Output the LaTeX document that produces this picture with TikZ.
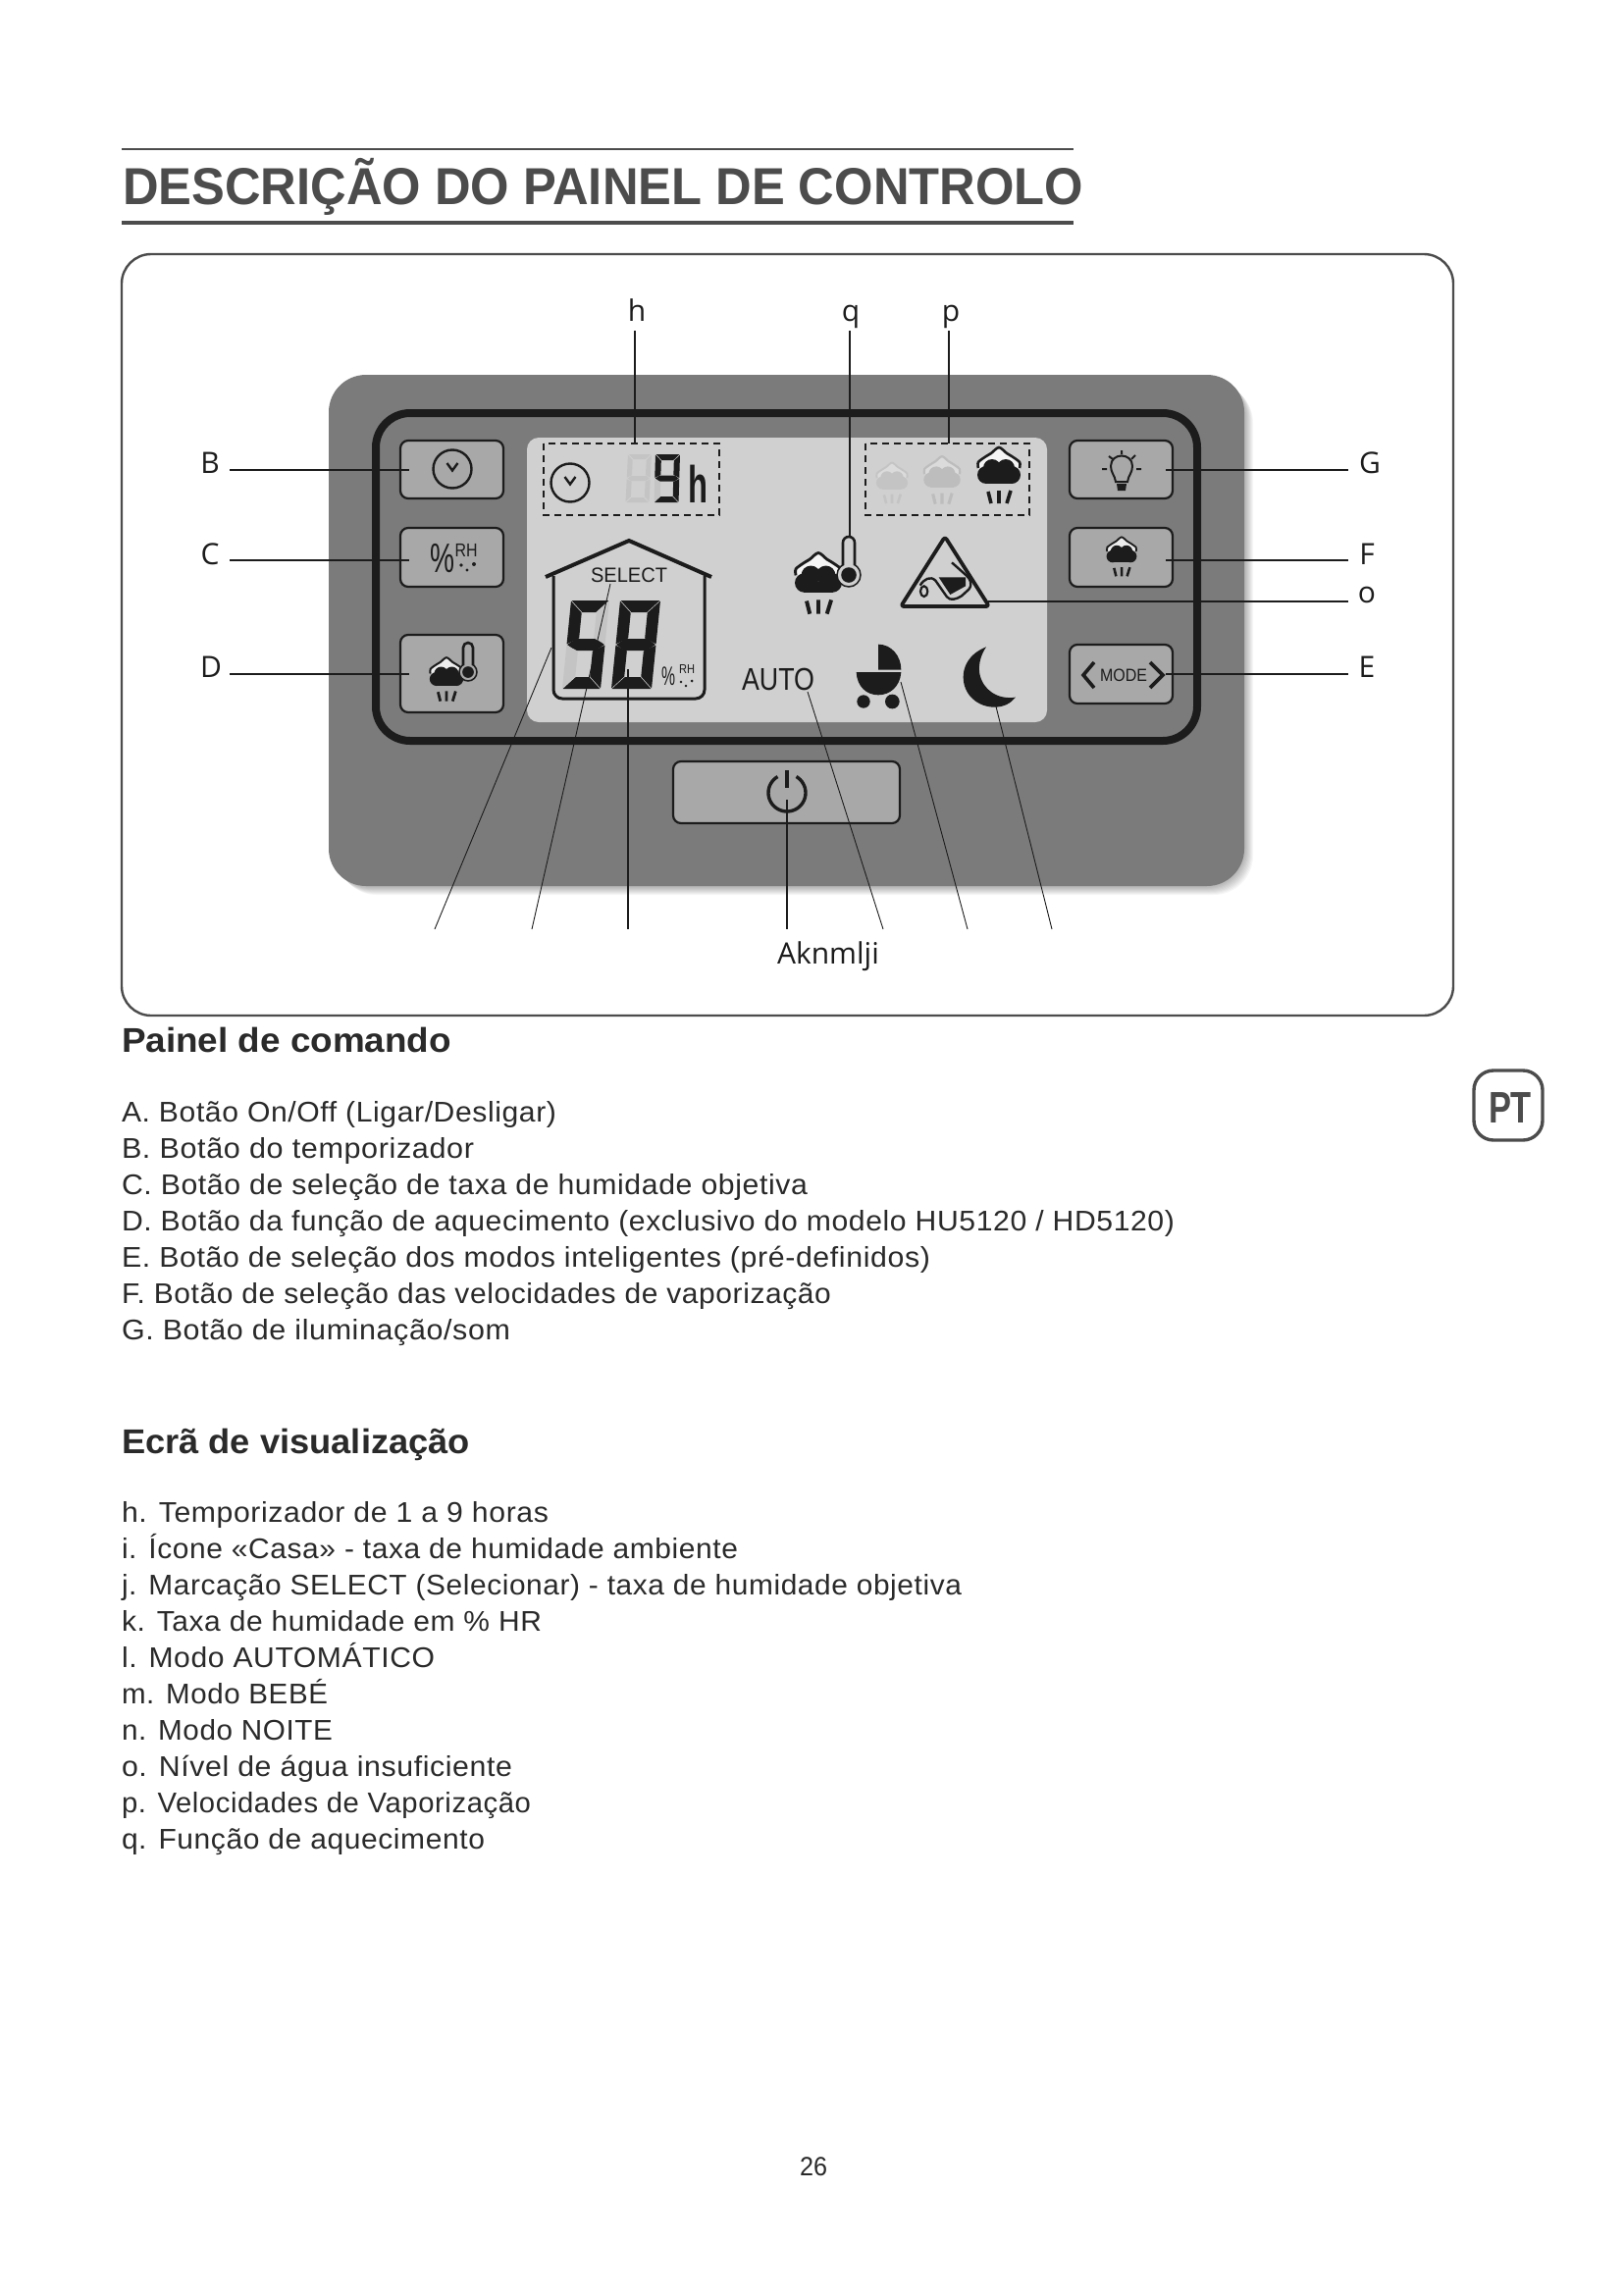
\documentclass[tikz,border=0pt]{standalone}
\usepackage{fontspec}
\usepackage{graphicx}
\setmainfont{Liberation Sans}
\newfontfamily\bodyf[LetterSpace=2]{Liberation Sans}
\newfontfamily\lblf{Open Sans}
\definecolor{panelgrey}{HTML}{7B7B7B}
\definecolor{lcdgrey}{HTML}{D0D0D0}
\definecolor{btngrey}{HTML}{A8A8A8}
\definecolor{fadegrey}{HTML}{BDBDBD}
\definecolor{faintgrey}{HTML}{C4C4C4}
\definecolor{inkdark}{HTML}{1C1C1C}
\definecolor{headgrey}{HTML}{4C4C4C}
\definecolor{textdark}{HTML}{2A2A2A}
\newcommand{\fz}[1]{\fontsize{#1pt}{#1pt}\selectfont}
\newcommand{\fitw}[2]{\resizebox{#1pt}{\height}{#2}}
\newcommand{\bline}[3]{\node[txt] (#1) at (124,#2) {\fitw{#3}{\fz{29}\bodyf\strut\csname bt#1\endcsname}};}
\def\bandop{.8}
\newcommand{\cloudicon}[4]{%
 \begin{scope}[shift={(#1,#2)},scale=#3]
  \fill[white,opacity=\bandop] plot[smooth] coordinates {(-21,-7) (-21,-13) (-13,-19) (-8,-22) (0,-28) (8,-22) (13,-19) (21,-13) (21,-7)} -- cycle;
  \draw[#4,line width=#3*2.6pt] plot[smooth] coordinates {(-21,-7) (-21,-13) (-13,-19) (-8,-22) (0,-28) (8,-22) (13,-19) (21,-13) (21,-7)};
  \fill[#4] (-13,0) circle[radius=9];
  \fill[#4] (13,0) circle[radius=9];
  \fill[#4] (-7,-7) circle[radius=9];
  \fill[#4] (7,-7) circle[radius=9];
  \fill[#4] (-14,-1) rectangle (14,9);
  \draw[#4,line width=#3*3.6pt] (-11,17) -- (-8,29) (0,16) -- (0,29) (12,16) -- (8,29);
 \end{scope}}
\newcommand{\thermo}[6]{% x, top, bulb y, half tube, bulb r, bg
 \fill[#6] (#1,#3) circle[radius=#5];
 \draw[inkdark,line width=1.5pt] (#1,#3) circle[radius=#5];
 \draw[inkdark,line width=2.6pt,fill=#6,rounded corners=#4pt] (#1-#4,#3-#5+2) -- (#1-#4,#2) -- (#1+#4,#2) -- (#1+#4,#3-#5+2);
 \fill[inkdark] (#1,#3) circle[radius=#5*.65];}
\newcommand{\clockicon}[2]{%
 \draw[inkdark,line width=2.4pt] (#1,#2) circle[radius=19.5];
 \draw[inkdark,line width=2.4pt] (#1-5.5,#2-6) -- (#1,#2+1.5) -- (#1+5.5,#2-6);}
% seven segments, in a scope where \W \H \T \G are set
\newcommand{\sA}[1]{\fill[#1] (\G,0) -- (\W-\G,0) -- (\W-\G-\T,\T) -- (\G+\T,\T) -- cycle;}
\newcommand{\sD}[1]{\fill[#1] (\G,\H) -- (\W-\G,\H) -- (\W-\G-\T,\H-\T) -- (\G+\T,\H-\T) -- cycle;}
\newcommand{\sM}[1]{\fill[#1] (\G+\T*.7,\H/2-\T/2) -- (\W-\G-\T*.7,\H/2-\T/2) -- (\W-\G,\H/2) -- (\W-\G-\T*.7,\H/2+\T/2) -- (\G+\T*.7,\H/2+\T/2) -- (\G,\H/2) -- cycle;}
\newcommand{\sF}[1]{\fill[#1] (0,\G) -- (\T,\G+\T) -- (\T,\H/2-\G-\T/2) -- (0,\H/2-\G) -- cycle;}
\newcommand{\sB}[1]{\fill[#1] (\W,\G) -- (\W-\T,\G+\T) -- (\W-\T,\H/2-\G-\T/2) -- (\W,\H/2-\G) -- cycle;}
\newcommand{\sE}[1]{\fill[#1] (0,\H/2+\G) -- (\T,\H/2+\G+\T/2) -- (\T,\H-\G-\T) -- (0,\H-\G) -- cycle;}
\newcommand{\sC}[1]{\fill[#1] (\W,\H/2+\G) -- (\W-\T,\H/2+\G+\T/2) -- (\W-\T,\H-\G-\T) -- (\W,\H-\G) -- cycle;}
\newcommand{\setseg}[4]{\def\W{#1}\def\H{#2}\def\T{#3}\def\G{#4}}
\tikzset{
 txt/.style={anchor=base west,inner sep=0pt,outer sep=0pt,text=textdark},
 lbl/.style={anchor=base,inner sep=0pt,outer sep=0pt,text=inkdark,font={\lblf\fz{30}}},
 btn/.style={draw=inkdark,fill=btngrey,line width=2.2pt,rounded corners=8pt},
 lead/.style={draw=inkdark,line width=1.5pt},
 leadthin/.style={draw=inkdark,line width=.9pt},
 dashbox/.style={draw=inkdark,line width=1.8pt,dash pattern=on 7pt off 5pt},
 lcdtxt/.style={inner sep=0pt,outer sep=0pt,text=inkdark}
}
\def\btA{A. Botão On/Off (Ligar/Desligar)}
\def\btB{B. Botão do temporizador}
\def\btC{C. Botão de seleção de taxa de humidade objetiva}
\def\btD{D. Botão da função de aquecimento (exclusivo do modelo HU5120 / HD5120)}
\def\btE{E. Botão de seleção dos modos inteligentes (pré-definidos)}
\def\btF{F. Botão de seleção das velocidades de vaporização}
\def\btG{G. Botão de iluminação/som}
\def\bth{h. Temporizador de 1 a 9 horas}
\def\bti{i. Ícone «Casa» - taxa de humidade ambiente}
\def\btj{j. Marcação SELECT (Selecionar) - taxa de humidade objetiva}
\def\btk{k. Taxa de humidade em \% HR}
\def\btl{l. Modo AUTOMÁTICO}
\def\btm{m. Modo BEBÉ}
\def\btn{n. Modo NOITE}
\def\bto{o. Nível de água insuficiente}
\def\btp{p. Velocidades de Vaporização}
\def\btq{q. Função de aquecimento}
\begin{document}
\begin{tikzpicture}[x=1pt,y=-1pt]
\useasboundingbox (0,0) rectangle (1654,2339);
\fill[white] (0,0) rectangle (1654,2339);
% title
\draw[headgrey,line width=2.6pt] (124,152) -- (1094,152);
\draw[headgrey,line width=4pt] (124,227) -- (1094,227);
\node[txt,text=headgrey] (title) at (125,208) {\fitw{979}{\fz{53}\bfseries DESCRIÇÃO DO PAINEL DE CONTROLO}};
% frame
\draw[headgrey,line width=2.4pt,rounded corners=30pt] (124,259) rectangle (1481,1035);
% panel shadow
\foreach \i in {1,...,9}
  \fill[black,opacity=.035,rounded corners=40pt] (335+\i,382+\i) rectangle (1268+\i,903+\i);
\fill[panelgrey,rounded corners=38pt] (335,382) rectangle (1268,903);
\draw[inkdark,line width=8pt,rounded corners=35pt] (383,421) rectangle (1220,755);
\fill[lcdgrey,rounded corners=12pt] (537,446) rectangle (1067,736);
% buttons
\draw[btn] (408,449) rectangle (513,508);
\draw[btn] (408,538) rectangle (513,598);
\draw[btn] (408,647) rectangle (513,726);
\draw[btn] (1090,449) rectangle (1195,508);
\draw[btn] (1090,538) rectangle (1195,598);
\draw[btn] (1090,657) rectangle (1195,717);
\draw[btn] (686,776) rectangle (917,839);
% button icons
\clockicon{461}{478}
\node[lcdtxt] (pctC) at (451,569) {\fitw{25}{\fz{42}\%}};
\node[lcdtxt] (rhC) at (475,561) {\fitw{23}{\fz{19}RH}};
\fill[inkdark] (470,576) circle[radius=1.8];
\fill[inkdark] (476,581) circle[radius=1.6];
\fill[inkdark] (483,575) circle[radius=2];
\cloudicon{455}{692}{.78}{inkdark}
\thermo{477}{655}{685}{5}{9}{btngrey}
% bulb
\draw[inkdark,line width=2pt] (1137,491) .. controls (1136,484) and (1132,482) .. (1132,475) .. controls (1132,461) and (1154,461) .. (1154,475) .. controls (1154,482) and (1150,484) .. (1149,491) -- cycle;
\fill[inkdark] (1138,493) -- (1148,493) -- (1147,500) -- (1139,500) -- cycle;
\draw[inkdark,line width=2pt] (1123,478) -- (1128,478) (1158,478) -- (1163,478) (1143,459) -- (1143,463) (1130,465) -- (1134,468) (1157,464) -- (1153,468);
\cloudicon{1143}{567}{.7}{inkdark}
% mode
\node[lcdtxt] (modetxt) at (1145,688) {\fitw{48}{\fz{18}MODE}};
\draw[inkdark,line width=3.6pt] (1115,675) -- (1104,688) -- (1115,701) (1172,675) -- (1185,688) -- (1172,701);
% power
\draw[inkdark,line width=3.4pt] plot[smooth,domain=-60:240,samples=40] ({802+19*cos(\x)},{808+19*sin(\x)});
\draw[inkdark,line width=3.4pt] (802,785) -- (802,803);
% dashed boxes
\draw[dashbox] (554,452) rectangle (733,525);
\draw[dashbox] (882,452) rectangle (1049,525);
% timer
\clockicon{581}{492}
\begin{scope}[shift={(640,463)},xslant=.05]
 \setseg{24}{49}{5}{.8}
 \sA{faintgrey}\sB{faintgrey}\sC{faintgrey}\sD{faintgrey}\sE{faintgrey}\sF{faintgrey}\sM{faintgrey}
\end{scope}
\begin{scope}[shift={(668,463)},xslant=.03]
 \setseg{25}{49}{6}{.6}
 \sA{inkdark}\sB{inkdark}\sC{inkdark}\sD{inkdark}\sF{inkdark}\sM{inkdark}\sE{faintgrey}
\end{scope}
\node[txt,text=inkdark] (timerh) at (701,512) {\fitw{20}{\fz{53}\bfseries h}};
% speeds
\def\bandop{.25}
\cloudicon{909}{492}{.73}{faintgrey}
\cloudicon{960}{489}{.85}{fadegrey}
\def\bandop{.8}
\cloudicon{1018}{484}{1}{inkdark}
% heat
\cloudicon{834}{594}{1.09}{inkdark}
\thermo{865}{547}{586}{6}{12}{lcdgrey}
% water warning
\draw[inkdark,line width=3.8pt,line join=round,rounded corners=3pt] (963,547) -- (1008,618) -- (918,618) -- cycle;
\begin{scope}[shift={(780,370)},scale=1/3]
 \fill[inkdark] (530,655) -- (612,655) -- (612,682) -- (565,708) -- cycle;
 \draw[inkdark,line width=2.4pt,line join=round] (473,680) .. controls (485,660) and (505,650) .. (520,665) -- (555,715) .. controls (565,728) and (585,722) .. (600,712) -- (622,692) .. controls (635,675) and (625,660) .. (615,650) -- (570,610);
 \draw[inkdark,line width=2.2pt] (485,698) ellipse[x radius=11,y radius=16];
 % pram
 \fill[inkdark] (345,860) .. controls (385,860) and (415,895) .. (415,938) -- (345,938) -- cycle;
 \fill[inkdark] (278,945) -- (415,945) .. controls (412,990) and (380,1015) .. (345,1015) .. controls (310,1015) and (280,990) .. (278,945) -- cycle;
 \fill[inkdark] (300,1035) circle[radius=20];
 \fill[inkdark] (388,1035) circle[radius=22];
 % moon
 \fill[inkdark] (675,868) .. controls (620,890) and (605,930) .. (605,960) .. controls (605,1015) and (650,1052) .. (700,1052) .. controls (730,1052) and (750,1040) .. (765,1022) .. controls (710,1030) and (665,1000) .. (655,950) .. controls (650,920) and (660,890) .. (675,868) -- cycle;
\end{scope}
\node[lcdtxt,anchor=base west] (autotxt) at (756,703) {\fitw{74}{\fz{32}AUTO}};
% house
\draw[inkdark,line width=3pt,rounded corners=9pt] (564,587) -- (564,712) -- (718,712) -- (718,587);
\draw[inkdark,line width=4pt] (556,588) -- (641,551) -- (725,588);
\node[lcdtxt] (selecttxt) at (641,586) {\fitw{78}{\fz{21}SELECT}};
\begin{scope}[shift={(582,612)},xslant=.1]
 \setseg{39}{90}{12}{.6}
 \sA{inkdark}\sF{inkdark}\sM{inkdark}\sC{inkdark}\sD{inkdark}\sB{faintgrey}\sE{faintgrey}
\end{scope}
\begin{scope}[shift={(632,612)},xslant=.1]
 \setseg{41}{90}{12}{.6}
 \sA{inkdark}\sB{inkdark}\sC{inkdark}\sD{inkdark}\sE{inkdark}\sF{inkdark}\sM{inkdark}
\end{scope}
\node[lcdtxt] (pctH) at (681,689) {\fitw{14}{\fz{27}\%}};
\node[lcdtxt] (rhH) at (700,682) {\fitw{16}{\fz{13}RH}};
\fill[inkdark] (694,695) circle[radius=1.4];
\fill[inkdark] (699,699) circle[radius=1.4];
\fill[inkdark] (705,694) circle[radius=1.5];
% labels
\node[lbl] (lh) at (649,327) {h};
\node[lbl] (lq) at (867,327) {q};
\node[lbl] (lp) at (969,327) {p};
\node[lbl] (lB) at (214,482) {B};
\node[lbl] (lC) at (214,575) {C};
\node[lbl] (lD) at (215,690) {D};
\node[lbl] (lG) at (1396,482) {G};
\node[lbl] (lF) at (1393,575) {F};
\node[lbl] (lo) at (1393,614) {o};
\node[lbl] (lE) at (1393,690) {E};
\node[lbl,anchor=base west] (lbot) at (792,982) {Aknmlji};
% leader ends
\coordinate (hT) at (647,337); \coordinate (hB) at (647,452);
\coordinate (qT) at (866,337); \coordinate (qB) at (866,547);
\coordinate (pT) at (967,337); \coordinate (pB) at (967,452);
\coordinate (bL) at (234,479); \coordinate (bR) at (417,479);
\coordinate (cL) at (234,571); \coordinate (cR) at (417,571);
\coordinate (dL) at (234,687); \coordinate (dR) at (417,687);
\coordinate (gL) at (1188,479); \coordinate (gR) at (1374,479);
\coordinate (fL) at (1188,571); \coordinate (fR) at (1374,571);
\coordinate (oL) at (1007,613); \coordinate (oR) at (1374,613);
\coordinate (eL) at (1188,687); \coordinate (eR) at (1374,687);
\coordinate (iA) at (562,660); \coordinate (iB) at (443,947);
\coordinate (jA) at (622,595); \coordinate (jB) at (542,947);
\coordinate (kA) at (640,682); \coordinate (kB) at (640,947);
\coordinate (aA) at (802,815); \coordinate (aB) at (802,947);
\coordinate (lA) at (823,705); \coordinate (lB2) at (900,947);
\coordinate (mA) at (918,695); \coordinate (mB) at (986,947);
\coordinate (nA) at (1015,720); \coordinate (nB) at (1072,947);
\draw[lead] (hT) -- (hB);
\draw[lead] (qT) -- (qB);
\draw[lead] (pT) -- (pB);
\draw[lead] (bL) -- (bR);
\draw[lead] (cL) -- (cR);
\draw[lead] (dL) -- (dR);
\draw[lead] (gL) -- (gR);
\draw[lead] (fL) -- (fR);
\draw[lead] (oL) -- (oR);
\draw[lead] (eL) -- (eR);
\draw[leadthin] (iA) -- (iB);
\draw[leadthin] (jA) -- (jB);
\draw[lead] (kA) -- (kB);
\draw[lead] (aA) -- (aB);
\draw[leadthin] (lA) -- (lB2);
\draw[leadthin] (mA) -- (mB);
\draw[leadthin] (nA) -- (nB);
% text
\node[txt,text=textdark] (painel) at (124,1072) {\fitw{336}{\fz{35}\bfseries Painel de comando}};
\bline{A}{1143}{443}
\bline{B}{1180}{359}
\bline{C}{1217}{699}
\bline{D}{1254}{1073}
\bline{E}{1291}{824}
\bline{F}{1328}{723}
\bline{G}{1365}{396}
\node[txt,text=textdark] (ecra) at (124,1481) {\fitw{355}{\fz{35}\bfseries Ecrã de visualização}};
\bline{h}{1551}{435}
\bline{i}{1588}{628}
\bline{j}{1625}{856}
\bline{k}{1662}{428}
\bline{l}{1699}{319}
\bline{m}{1736}{210}
\bline{n}{1773}{215}
\bline{o}{1810}{398}
\bline{p}{1847}{417}
\bline{q}{1884}{370}
% badge
\draw[headgrey,line width=3.4pt,rounded corners=20pt] (1502,1091) rectangle (1572,1162);
\node[txt,text=headgrey] (ptbadge) at (1517,1144) {\fitw{44}{\fz{45}\bfseries PT}};
\node[txt] (pageno) at (815,2217) {\fitw{28}{\fz{27}26}};
\end{tikzpicture}
\end{document}
